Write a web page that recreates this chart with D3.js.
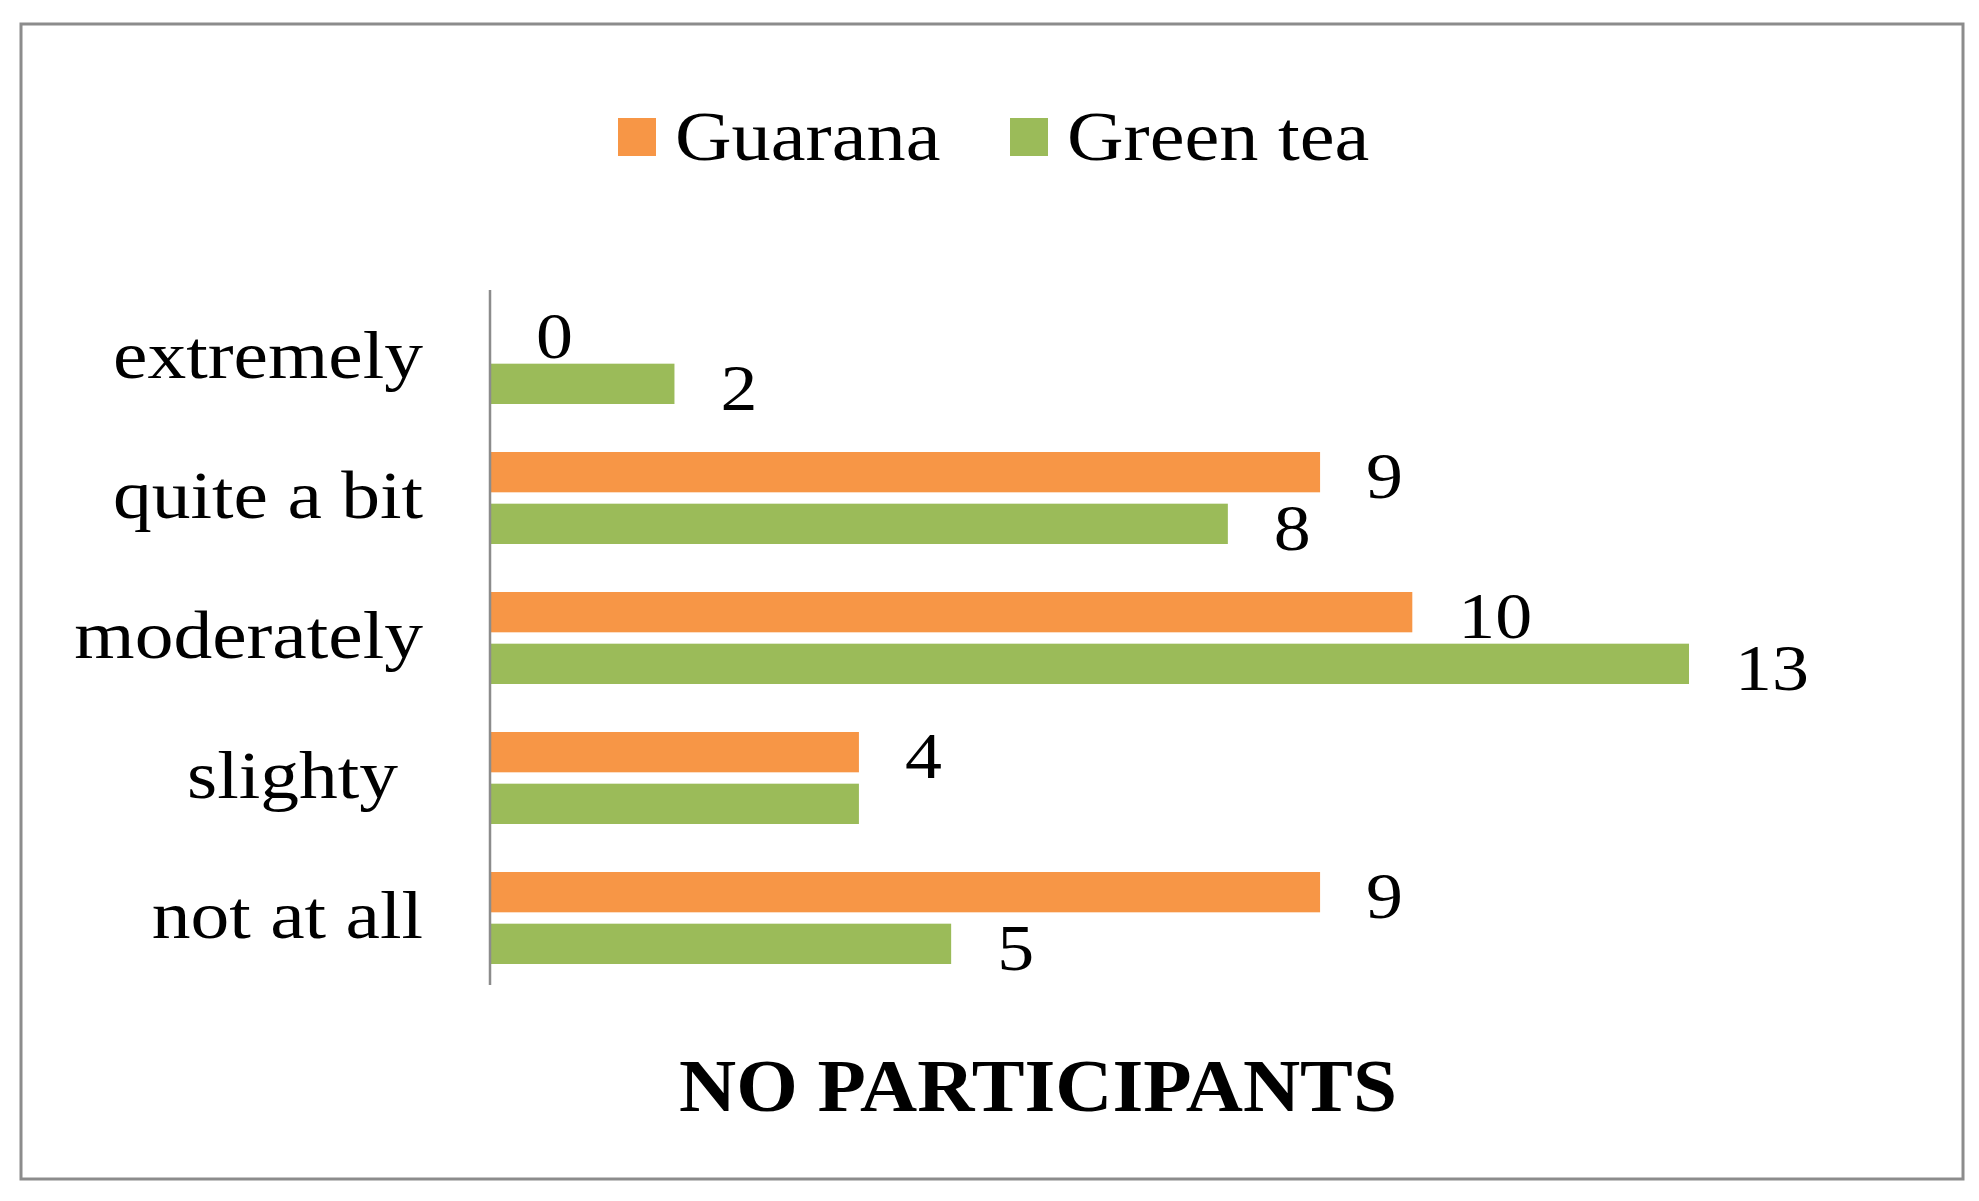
<!DOCTYPE html>
<html><head><meta charset="utf-8">
<script src="https://cdn.jsdelivr.net/npm/d3@7"></script>
<style>body{margin:0;background:#fff}</style></head>
<body><svg id="c" width="1979" height="1201"></svg>
<script>
const categories = ["extremely","quite a bit","moderately","slighty","not at all"];
const guarana = [0,9,10,4,9];
const greenTea = [2,8,13,4,5];
const greenShown = [true,true,true,false,true];
const seriesNames = ["Guarana","Green tea"];
const colors = ["#F79646","#9BBB59"];

const svg = d3.select("#c");
const font = "'Liberation Serif','Times New Roman',serif";
function txt(xp,yp,s,size,sx,anchor,bold){
  const t = svg.append("text").attr("transform",`translate(${xp},${yp}) scale(${sx},1)`)
    .attr("font-family",font).attr("font-size",size).attr("fill","#000").text(s);
  if(anchor) t.attr("text-anchor",anchor);
  if(bold) t.attr("font-weight","bold");
  return t;
}
svg.append("rect").attr("x",21).attr("y",24).attr("width",1942).attr("height",1155)
  .attr("fill","#fff").attr("stroke","#8c8c8c").attr("stroke-width",3);

const x = d3.scaleLinear().domain([0,13]).range([490,1689]);
const y = d3.scaleBand().domain(categories).range([288,988]);
const sub = d3.scaleBand().domain([0,1]).range([-46,46]).paddingInner(0.22);

categories.forEach((c,i)=>{
  const cy = y(c)+y.bandwidth()/2;
  [guarana[i],greenTea[i]].forEach((v,k)=>{
    const by = cy+sub(k);
    svg.append("rect").attr("x",x(0)).attr("y",by).attr("width",x(v)-x(0))
      .attr("height",sub.bandwidth()).attr("fill",colors[k]);
    if(k===1 && !greenShown[i]) return;
    txt(x(v)+46, by+sub.bandwidth()+6, v, 66, 1.12);
  });
  txt(c==="slighty"?398:423, cy+20, c, 68, 1.14, "end");
});
svg.append("line").attr("x1",x(0)).attr("x2",x(0)).attr("y1",290).attr("y2",985)
  .attr("stroke","#8c8c8c").attr("stroke-width",2.5);

const lx=[618,1010];
seriesNames.forEach((s,k)=>{
  svg.append("rect").attr("x",lx[k]).attr("y",118).attr("width",38).attr("height",38).attr("fill",colors[k]);
  txt(lx[k]+57, 160, s, 70, 1.12);
});
txt(1038, 1111, "NO PARTICIPANTS", 74, 1.07, "middle", true);
</script></body></html>
